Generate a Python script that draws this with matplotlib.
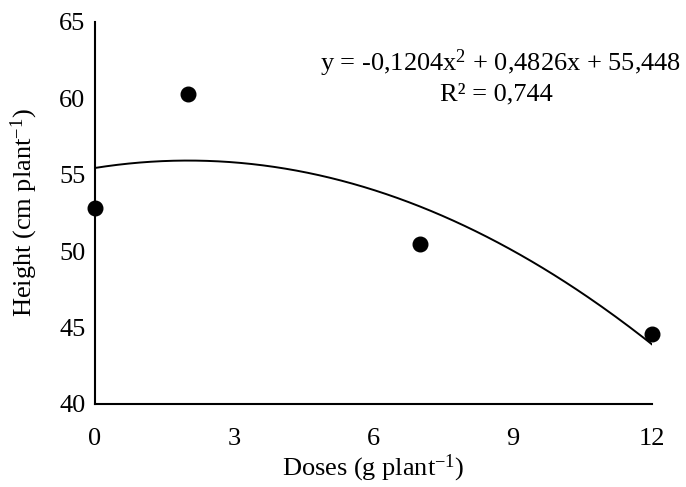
import numpy as np
import matplotlib
matplotlib.use("Agg")
import matplotlib.pyplot as plt

# Data
doses = [0, 2, 7, 12]
heights = [52.8, 60.3, 50.5, 44.6]
coef = [-0.1204, 0.4826, 55.448]  # quadratic trend line coefficients
r2_text = "0,744"
x_ticks = [0, 3, 6, 9, 12]
y_ticks = [40, 45, 50, 55, 60, 65]

plt.rcParams['font.family'] = ['Liberation Serif', 'DejaVu Serif']
plt.rcParams['mathtext.fontset'] = 'custom'
plt.rcParams['mathtext.rm'] = 'Liberation Serif'
plt.rcParams['mathtext.it'] = 'Liberation Serif:italic'
plt.rcParams['mathtext.default'] = 'regular'

FS = 19
fig = plt.figure(figsize=(6.86, 4.87), dpi=100)
ax = fig.add_axes([95/686, 1-404/487, (652-95)/686, (404-22)/487])

xs = np.linspace(0, 12, 200)
ax.plot(xs, np.polyval(coef, xs), color='black', lw=1.4, zorder=2)
ax.plot(doses, heights, 'o', color='black', ms=10.5, zorder=3, clip_on=False)

ax.set_xlim(0, 12)
ax.set_ylim(40, 65)
ax.set_xticks(x_ticks)
ax.set_yticks(y_ticks)
ax.tick_params(axis='both', length=0, labelsize=FS)
ax.tick_params(axis='x', pad=17)
ax.tick_params(axis='y', pad=7)
for s in ['top', 'right']:
    ax.spines[s].set_visible(False)
for s in ['left', 'bottom']:
    ax.spines[s].set_linewidth(1.5)

ax.set_xlabel('Doses (g plant$^{-1}$)', fontsize=FS)
ax.set_ylabel('Height (cm plant$^{-1}$)', fontsize=FS)
ax.xaxis.set_label_coords(0.5, (404-468)/382, transform=ax.transAxes)
ax.yaxis.set_label_coords((24-95)/557, 0.5, transform=ax.transAxes)
ax.xaxis.label.set_va('center')
ax.yaxis.label.set_va('center')

eq = "y = -0,1204x$^{2}$ + 0,4826x + 55,448"
fig.text(501/686, 1-63/487, eq, fontsize=FS, ha='center', va='center')
fig.text(496/686, 1-94/487, "R² = " + r2_text, fontsize=FS, ha='center', va='center')

fig.savefig('out.png', dpi=100)
